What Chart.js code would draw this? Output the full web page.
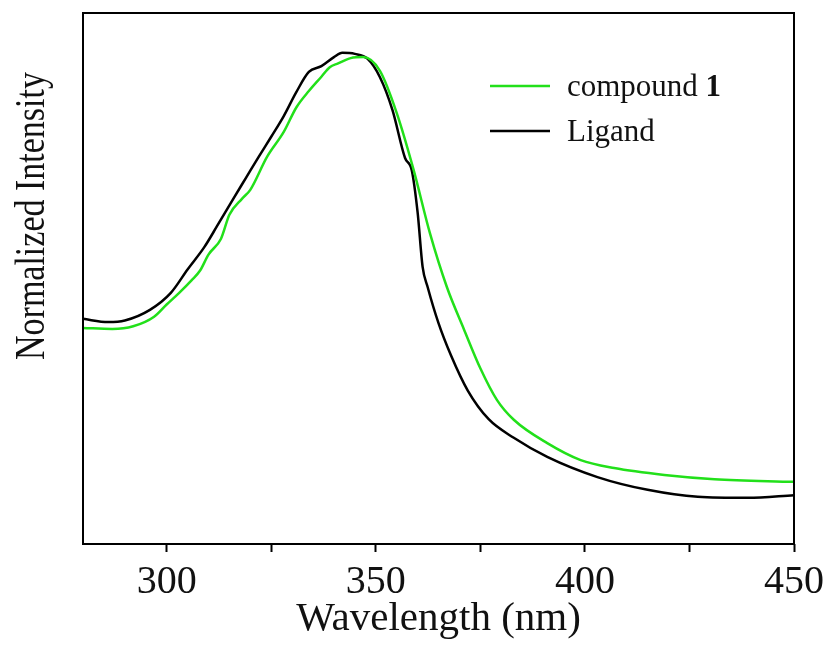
<!DOCTYPE html>
<html lang="en">
<head>
  <meta charset="UTF-8" />
  <title>Normalized Intensity vs Wavelength</title>
  <script src="https://cdn.jsdelivr.net/npm/chart.js"></script>
  <style>
    * {
      margin: 0;
      padding: 0;
      box-sizing: border-box;
    }

    body {
      background-color: #ffffff;
    }

    .wrap {
      width: 830px;
      height: 648px;
    }
  </style>
</head>
<body>

  <div class="wrap">
    <canvas id="specChart" width="830" height="648"></canvas>
  </div>

  <script>
    // data (wavelength in nm, intensity normalized 0..1 of the frame)
    const ligandNm = [280, 286, 290, 296, 301, 305, 309, 312, 316, 319, 322, 325, 328, 331, 334, 337, 340, 342, 345, 348, 351, 354, 357, 358.6, 360, 361.2, 362.4, 365, 368, 372, 377, 383, 391, 403, 415, 427, 439, 450];
    const ligandVal = [0.424, 0.418, 0.421, 0.441, 0.473, 0.517, 0.559, 0.598, 0.651, 0.690, 0.729, 0.767, 0.806, 0.851, 0.889, 0.900, 0.917, 0.925, 0.923, 0.914, 0.879, 0.817, 0.727, 0.704, 0.625, 0.522, 0.484, 0.416, 0.355, 0.289, 0.235, 0.200, 0.164, 0.126, 0.102, 0.089, 0.087, 0.092];

    const compoundNm = [280, 287, 292, 297, 300, 303, 306, 308, 310, 313, 315, 318, 320, 324, 328, 331, 334, 337, 339, 341, 344, 347, 351, 355, 359, 363, 367, 371, 375, 379, 383, 391, 399, 407, 419, 431, 450];
    const compoundVal = [0.407, 0.405, 0.410, 0.428, 0.451, 0.473, 0.497, 0.515, 0.545, 0.575, 0.620, 0.650, 0.667, 0.729, 0.776, 0.822, 0.853, 0.880, 0.898, 0.905, 0.915, 0.917, 0.891, 0.812, 0.706, 0.584, 0.484, 0.406, 0.331, 0.271, 0.234, 0.190, 0.158, 0.143, 0.130, 0.122, 0.117];

    const xTicks = [300, 325, 350, 375, 400, 425, 450];
    const xLabelled = [300, 350, 400, 450];

    const serif = "'Liberation Serif', 'Times New Roman', serif";
    const green = '#22e01a';

    function toPoints(xs, ys) {
      return xs.map((x, i) => ({ x: x, y: ys[i] }));
    }

    // frame, y title and legend drawn on top of the chart
    const decorations = {
      id: 'decorations',
      afterDraw(chart) {
        const ctx = chart.ctx;
        const a = chart.chartArea;
        ctx.save();

        ctx.strokeStyle = '#000';
        ctx.lineWidth = 2;
        ctx.strokeRect(a.left, a.top, a.right - a.left, a.bottom - a.top);

        // y axis title (the original figure is a bit stretched sideways)
        ctx.fillStyle = '#111';
        ctx.font = '34px ' + serif;
        ctx.textAlign = 'center';
        ctx.textBaseline = 'middle';
        ctx.translate(33, 216);
        ctx.scale(1.22, 1);
        ctx.rotate(-Math.PI / 2);
        ctx.fillText('Normalized Intensity', 0, 0);
        ctx.setTransform(1, 0, 0, 1, 0, 0);

        // legend
        const rows = [
          { ds: chart.data.datasets[0], y: 86 },
          { ds: chart.data.datasets[1], y: 131 }
        ];
        ctx.textAlign = 'left';
        ctx.textBaseline = 'middle';
        rows.forEach(r => {
          ctx.strokeStyle = r.ds.borderColor;
          ctx.lineWidth = 2.5;
          ctx.beginPath();
          ctx.moveTo(490, r.y);
          ctx.lineTo(550, r.y);
          ctx.stroke();

          ctx.fillStyle = '#111';
          ctx.font = '31px ' + serif;
          const parts = r.ds.label.split(' ');
          const last = parts[parts.length - 1];
          if (/^\d+$/.test(last)) {
            const head = parts.slice(0, -1).join(' ') + ' ';
            ctx.fillText(head, 567, r.y + 2);
            const w = ctx.measureText(head).width;
            ctx.font = 'bold 31px ' + serif;
            ctx.fillText(last, 567 + w, r.y + 2);
          } else {
            ctx.fillText(r.ds.label, 567, r.y + 2);
          }
        });

        ctx.restore();
      }
    };

    const ctx = document.getElementById('specChart').getContext('2d');

    const specChart = new Chart(ctx, {
      type: 'line',
      data: {
        datasets: [
          {
            label: 'compound 1',
            data: toPoints(compoundNm, compoundVal),
            borderColor: green,
            borderWidth: 2.5,
            pointRadius: 0,
            cubicInterpolationMode: 'monotone',
            fill: false
          },
          {
            label: 'Ligand',
            data: toPoints(ligandNm, ligandVal),
            borderColor: '#000000',
            borderWidth: 2.5,
            pointRadius: 0,
            cubicInterpolationMode: 'monotone',
            fill: false
          }
        ]
      },
      options: {
        responsive: false,
        animation: false,
        layout: {
          padding: { left: 0, top: 13, right: 34, bottom: 0 }
        },
        plugins: {
          legend: { display: false },
          tooltip: { enabled: false }
        },
        scales: {
          x: {
            type: 'linear',
            min: 280,
            max: 450,
            afterFit(scale) { scale.height = 104; },
            afterBuildTicks(scale) {
              scale.ticks = xTicks.map(v => ({ value: v }));
            },
            border: { display: false },
            grid: {
              drawOnChartArea: false,
              drawTicks: true,
              tickLength: 8,
              tickWidth: 2,
              tickColor: '#000'
            },
            ticks: {
              padding: 6,
              maxRotation: 0,
              color: '#111',
              font: { family: serif, size: 40 },
              callback: v => xLabelled.includes(v) ? String(v) : ''
            },
            title: {
              display: true,
              text: 'Wavelength (nm)',
              color: '#111',
              font: { family: serif, size: 41 },
              padding: { top: 0, bottom: 4 }
            }
          },
          y: {
            min: 0,
            max: 1,
            afterFit(scale) { scale.width = 83; },
            border: { display: false },
            grid: { display: false },
            ticks: { display: false }
          }
        }
      },
      plugins: [decorations]
    });
  </script>

</body>
</html>
